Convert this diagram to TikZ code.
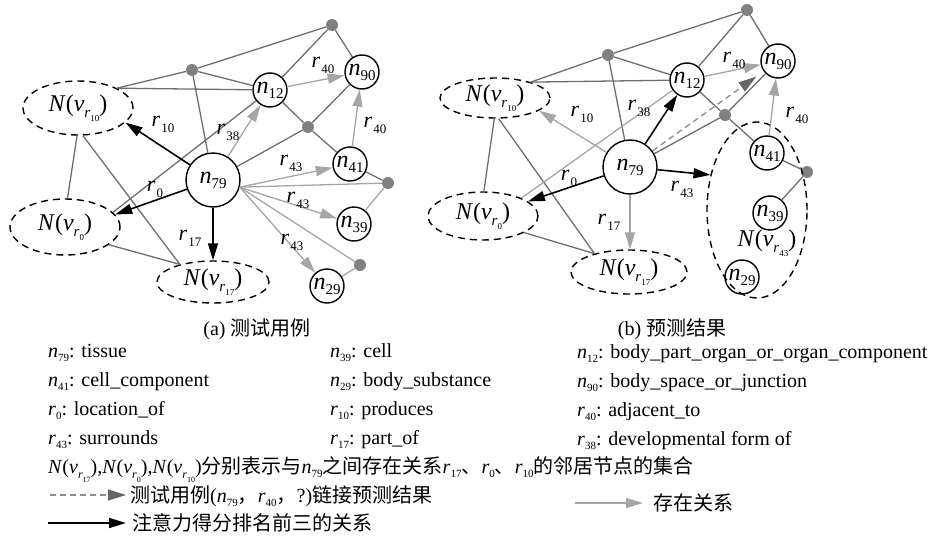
\documentclass[tikz,border=0pt]{standalone}
\usepackage{fontspec}
\setmainfont{Liberation Serif}
\newfontfamily\cjk{Noto Sans CJK SC}
\usetikzlibrary{arrows.meta,shapes.geometric}
\definecolor{dkline}{HTML}{6E6E6E}
\definecolor{ltline}{HTML}{A5A5A5}
\definecolor{dotc}{HTML}{808080}
\definecolor{dashc}{HTML}{8C8C8C}
\definecolor{dashtip}{HTML}{666666}
\newcommand\nlab[1]{\fontsize{24}{24}\selectfont\textit{n}\raisebox{-5pt}{\fontsize{15}{15}\selectfont #1}}
\newcommand\rlab[1]{\fontsize{22}{22}\selectfont\textit{r}\kern1pt\raisebox{-6pt}{\fontsize{13}{13}\selectfont #1}}
\newcommand\Nlab[1]{\fontsize{24}{24}\selectfont\textit{N}(\textit{v}\raisebox{-6pt}{\fontsize{15}{15}\selectfont\textit{r}\raisebox{-4pt}{\fontsize{9}{9}\selectfont #1}})}
\newcommand\lgs[2]{\textit{#1}\raisebox{-4pt}{\fontsize{11}{11}\selectfont #2}}
\newcommand\lgN[1]{\textit{N}(\textit{v}\raisebox{-5pt}{\fontsize{12}{12}\selectfont\textit{r}\raisebox{-4pt}{\fontsize{8}{8}\selectfont #1}})}
\tikzset{
  nd/.style={circle,draw,line width=1.4pt,minimum size=34pt,inner sep=0pt,fill=white},
  bignd/.style={nd,minimum size=54pt},
  dot/.style={circle,fill=dotc,minimum size=12pt,inner sep=0pt},
  nset/.style={ellipse,draw,line width=1.4pt,dash pattern=on 7pt off 5pt,inner sep=0pt},
  dk/.style={draw=dkline,line width=1.3pt},
  lt/.style={draw=ltline,line width=1.3pt},
  ltarr/.style={lt,-{Triangle[length=17pt,width=10pt]}},
  bkarr/.style={draw=black,line width=1.6pt,-{Triangle[length=17pt,width=10pt]}},
  dsarr/.style={draw=dashc,line width=1.3pt,dash pattern=on 6pt off 4pt,-{Triangle[length=18pt,width=11pt,color=dashtip,fill=dashtip]}},
  rl/.style={inner sep=0pt},
  lg/.style={anchor=base west,inner sep=0pt},
}
\begin{document}
\begin{tikzpicture}[x=1pt,y=-1pt,font=\fontsize{20}{24}\selectfont]
\useasboundingbox (0,0) rectangle (929,546);
% ---------------- (a) ----------------
\node[bignd] (a79) at (213,180) {\nlab{79}};
\node[nd] (a12) at (270,90) {\nlab{12}};
\node[nd] (a90) at (362,72) {\nlab{90}};
\node[nd] (a41) at (350,164) {\nlab{41}};
\node[nd] (a39) at (354,224) {\nlab{39}};
\node[nd] (a29) at (327,286) {\nlab{29}};
\node[dot] (ad1) at (192,70) {};
\node[dot] (ad2) at (332,25) {};
\node[dot] (ad3) at (308,127) {};
\node[dot] (ad4) at (388,183) {};
\node[dot] (ad5) at (360,265) {};
\node[nset,minimum width=110pt,minimum height=54pt] (ae10) at (78,108) {\Nlab{10}};
\node[nset,minimum width=110pt,minimum height=56pt] (ae0) at (65,227) {\Nlab{0}};
\node[nset,minimum width=112pt,minimum height=42pt] (ae17) at (213,282) {\Nlab{17}};
% dark lines
\draw[dk] (ad1) -- (ad2);
\draw[dk] (ae10.27) -- (ad1);
\draw[dk] (ae10.27) -- (a12);
\draw[dk] (ad1) -- (a12);
\draw[dk] (ad1) -- (a79);
\draw[dk] (ad2) -- (a12);
\draw[dk] (ad2) -- (a90);
\draw[dk] (a12) -- (ad3);
\draw[dk] (ad3) -- (a90);
\draw[dk] (ad3) -- (a41);
\draw[dk] (a79) -- (ad3);
\draw[dk] (a41) -- (ad4);
\draw[dk] (ae0.17) -- (a12);
\draw[dk] (ae10.268) -- (ae0.85);
\draw[dk] (ae10.280) -- (ae17.152);
\draw[dk] (ae0.-22) -- (ae17.152);
% light lines
\draw[lt] (a79.-15) -- (ad4);
\draw[lt] (a79.-15) -- (ad5);
\draw[lt] (ad4) -- (a39);
\draw[lt] (ad5) -- (a29);
% light arrows
\draw[ltarr] (a79) -- (a12);
\draw[ltarr] (a12) -- (a90);
\draw[ltarr] (a41) -- (a90);
\draw[ltarr] (a79.-15) -- (a41);
\draw[ltarr] (a79.-15) -- (a39);
\draw[ltarr] (a79.-15) -- (a29);
% black arrows
\draw[bkarr] (a79) -- (ae10.-17);
\draw[bkarr] (a79) -- (ae0.14);
\draw[bkarr] (a79.south) -- (a79.south |- ae17.north);
% labels
\node[rl] (la40a) at (323,65) {\rlab{40}};
\node[rl] (la40b) at (375,125) {\rlab{40}};
\node[rl] (la10) at (163,124) {\rlab{10}};
\node[rl] (la38) at (228,132) {\rlab{38}};
\node[rl] (la0) at (155,189) {\rlab{0}};
\node[rl] (la43a) at (291,163) {\rlab{43}};
\node[rl] (la43b) at (298,200) {\rlab{43}};
\node[rl] (la43c) at (292,242) {\rlab{43}};
\node[rl] (la17) at (190,238) {\rlab{17}};
% ---------------- (b) ----------------
\node[bignd] (b79) at (630,167) {\nlab{79}};
\node[nd] (b12) at (687,80) {\nlab{12}};
\node[nd] (b90) at (778,61) {\nlab{90}};
\node[nd] (b41) at (767,153) {\nlab{41}};
\node[nd] (b39) at (770,213) {\nlab{39}};
\node[nd] (b29) at (742,277) {\nlab{29}};
\node[dot] (bd1) at (608,55) {};
\node[dot] (bd2) at (747,10) {};
\node[dot] (bd3) at (725,115) {};
\node[dot] (bd4) at (807,172) {};
\node[nset,minimum width=110pt,minimum height=40pt] (be10) at (495,98) {\Nlab{10}};
\node[nset,minimum width=110pt,minimum height=48pt] (be0) at (483,216) {\Nlab{0}};
\node[nset,minimum width=116pt,minimum height=44pt] (be17) at (629,272) {\Nlab{17}};
\node[nset,minimum width=100pt,minimum height=176pt] (be43) at (757,210) {};
\node[rl] (l43) at (767,243) {\Nlab{43}};
% dark lines
\draw[dk] (bd1) -- (bd2);
\draw[dk] (be10.24) -- (bd1);
\draw[dk] (be10.24) -- (b12);
\draw[dk] (bd1) -- (b12);
\draw[dk] (bd1) -- (b79);
\draw[dk] (bd2) -- (b12);
\draw[dk] (bd2) -- (b90);
\draw[dk] (b12) -- (bd3);
\draw[dk] (bd3) -- (b41);
\draw[dk] (bd3) -- (b90);
\draw[dk] (b79) -- (bd3);
\draw[dk] (b41) -- (bd4);
\draw[dk] (bd4) -- (b39);
\draw[dk] (be10.268) -- (be0.88);
\draw[dk] (be10.280) -- (be17.152);
\draw[dk] (be0.-22) -- (be17.152);
% light line
\draw[lt] (be0.25) -- (b12);
% light arrows
\draw[ltarr] (b79) -- (be10.-16);
\draw[ltarr] (b12) -- (b90);
\draw[ltarr] (b41) -- (b90);
\draw[ltarr] (b79.south) -- (b79.south |- be17.north);
% dashed prediction
\draw[dsarr,shorten >=9pt] (b79) -- (b90);
% black arrows
\draw[bkarr] (b79) -- (b12);
\draw[bkarr] (b79) -- (be0.18);
\draw[bkarr] (b79) -- (be43.143);
% labels
\node[rl] (lb40a) at (734,60) {\rlab{40}};
\node[rl] (lb40b) at (797,115) {\rlab{40}};
\node[rl] (lb10) at (582,114) {\rlab{10}};
\node[rl] (lb38) at (639,108) {\rlab{38}};
\node[rl] (lb0) at (569,178) {\rlab{0}};
\node[rl] (lb43) at (682,189) {\rlab{43}};
\node[rl] (lb17) at (609,222) {\rlab{17}};
% ---------------- captions ----------------
\node[anchor=base,inner sep=0pt] (capa) at (257,335) {(a) {\cjk 测试用例}};
\node[anchor=base,inner sep=0pt] (capb) at (672,335) {(b) {\cjk 预测结果}};
% ---------------- legend ----------------
\node[lg] (t1) at (48,357) {\lgs{n}{79}: tissue};
\node[lg] (t2) at (48,386) {\lgs{n}{41}: cell\_component};
\node[lg] (t3) at (48,415) {\lgs{r}{0}: location\_of};
\node[lg] (t4) at (48,444) {\lgs{r}{43}: surrounds};
\node[lg] (u1) at (330,357) {\lgs{n}{39}: cell};
\node[lg] (u2) at (330,386) {\lgs{n}{29}: body\_substance};
\node[lg] (u3) at (330,415) {\lgs{r}{10}: produces};
\node[lg] (u4) at (330,444) {\lgs{r}{17}: part\_of};
\node[lg] (v1) at (577,358) {\lgs{n}{12}: body\_part\_organ\_or\_organ\_component};
\node[lg] (v2) at (577,387) {\lgs{n}{90}: body\_space\_or\_junction};
\node[lg] (v3) at (577,416) {\lgs{r}{40}: adjacent\_to};
\node[lg] (v4) at (577,445) {\lgs{r}{38}: developmental form of};
\node[lg] (t5) at (48,473) {\lgN{17},\lgN{0},\lgN{10}{\cjk 分别表示与}\lgs{n}{79}{\cjk 之间存在关系}\lgs{r}{17}{\cjk 、}\lgs{r}{0}{\cjk 、}\lgs{r}{10}{\cjk 的邻居节点的集合}};
\node[lg] (t6) at (130,502) {{\cjk 测试用例}(\lgs{n}{79}{\cjk ，}\lgs{r}{40}{\cjk ，}?){\cjk 链接预测结果}};
\coordinate (ds1) at (50,495);
\draw[dsarr,shorten >=4pt] (ds1) -- (ds1 -| t6.west);
\node[lg] (t7) at (653,510) {{\cjk 存在关系}};
\coordinate (gs1) at (575,503);
\draw[ltarr,shorten >=10pt] (gs1) -- (gs1 -| t7.west);
\node[lg] (t8) at (132,530) {{\cjk 注意力得分排名前三的关系}};
\coordinate (bs1) at (48,523);
\draw[bkarr,shorten >=6pt] (bs1) -- (bs1 -| t8.west);
\end{tikzpicture}
\end{document}
